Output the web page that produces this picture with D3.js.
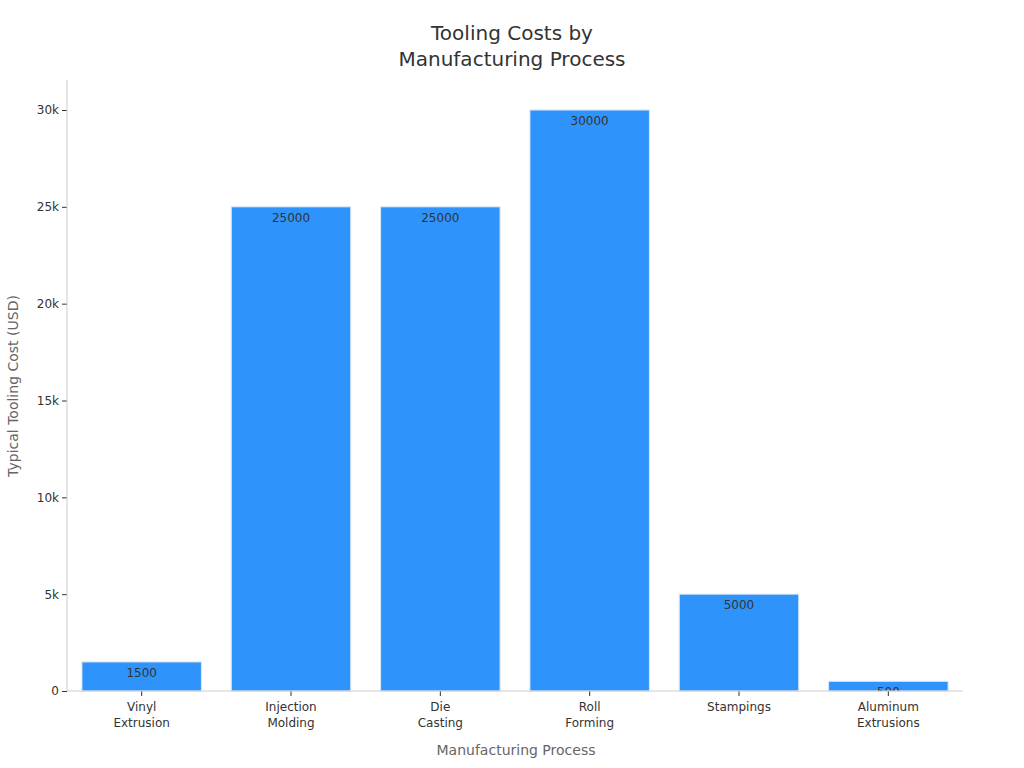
<!DOCTYPE html>
<html><head><meta charset="utf-8">
<script src="https://cdn.jsdelivr.net/npm/d3@7"></script>
<style>body{margin:0;background:#fff;font-family:"DejaVu Sans",sans-serif;}</style>
</head><body><svg id="c" width="1024" height="768"></svg>
<script>
const categories = [['Vinyl', 'Extrusion'], ['Injection', 'Molding'], ['Die', 'Casting'], ['Roll', 'Forming'], ['Stampings'], ['Aluminum', 'Extrusions']];
const costs = [1500, 25000, 25000, 30000, 5000, 500];
const yTicks = [0, 5000, 10000, 15000, 20000, 25000, 30000];

const svg = d3.select('#c');
const left = 67, right = 963, bottom = 691;
const x = d3.scaleBand().domain(d3.range(categories.length)).range([left, right]).paddingInner(0.2).paddingOuter(0.1);
const y = d3.scaleLinear().domain([0, 30000]).range([bottom, 110]);

svg.append('text').attr('x', 512).attr('y', 40).attr('text-anchor', 'middle').attr('font-size', 20).attr('fill', '#333').text('Tooling Costs by');
svg.append('text').attr('x', 512).attr('y', 66).attr('text-anchor', 'middle').attr('font-size', 20).attr('fill', '#333').text('Manufacturing Process');

const defs = svg.append('defs');
const g = svg.append('g');
costs.forEach((v, i) => {
  defs.append('clipPath').attr('id', 'cp' + i).append('rect')
    .attr('x', x(i)).attr('y', y(v)).attr('width', x.bandwidth()).attr('height', bottom - y(v));
  g.append('rect').attr('x', x(i)).attr('y', y(v)).attr('width', x.bandwidth()).attr('height', bottom - y(v))
    .attr('fill', '#2e93fa').attr('stroke', '#d8e6f5').attr('stroke-width', 1);
  g.append('text').attr('clip-path', `url(#cp${i})`).attr('x', x(i) + x.bandwidth() / 2).attr('y', y(v) + 15)
    .attr('text-anchor', 'middle').attr('font-size', 12).attr('fill', '#333').text(v);
});

const ya = svg.append('g').attr('transform', `translate(${left},0)`)
  .call(d3.axisLeft(y).tickValues(yTicks).tickSize(5).tickPadding(3).tickFormat(d => d === 0 ? '0' : d / 1000 + 'k'));
ya.select('.domain').remove();
ya.selectAll('line').attr('stroke', '#333');
ya.selectAll('text').attr('font-size', 12).attr('fill', '#333').attr('font-family', 'DejaVu Sans');
svg.append('line').attr('x1', left).attr('x2', left).attr('y1', 80).attr('y2', bottom).attr('stroke', '#ccc');

const xa = svg.append('g').attr('transform', `translate(0,${bottom})`)
  .call(d3.axisBottom(x).tickSize(5).tickFormat(''));
xa.select('.domain').remove();
xa.selectAll('line').attr('stroke', '#333');
svg.append('line').attr('x1', left).attr('x2', right).attr('y1', bottom).attr('y2', bottom).attr('stroke', '#ccc');
categories.forEach((lines, i) => {
  const t = svg.append('text').attr('x', x(i) + x.bandwidth() / 2).attr('y', bottom + 20)
    .attr('text-anchor', 'middle').attr('font-size', 12).attr('fill', '#333');
  lines.forEach((l, k) => t.append('tspan').attr('x', x(i) + x.bandwidth() / 2).attr('dy', k ? 16 : 0).text(l));
});

svg.append('text').attr('x', 516).attr('y', 755).attr('text-anchor', 'middle').attr('font-size', 14).attr('fill', '#666').text('Manufacturing Process');
svg.append('text').attr('transform', 'translate(18,386) rotate(-90)').attr('text-anchor', 'middle').attr('font-size', 14).attr('fill', '#666').text('Typical Tooling Cost (USD)');
</script></body></html>
